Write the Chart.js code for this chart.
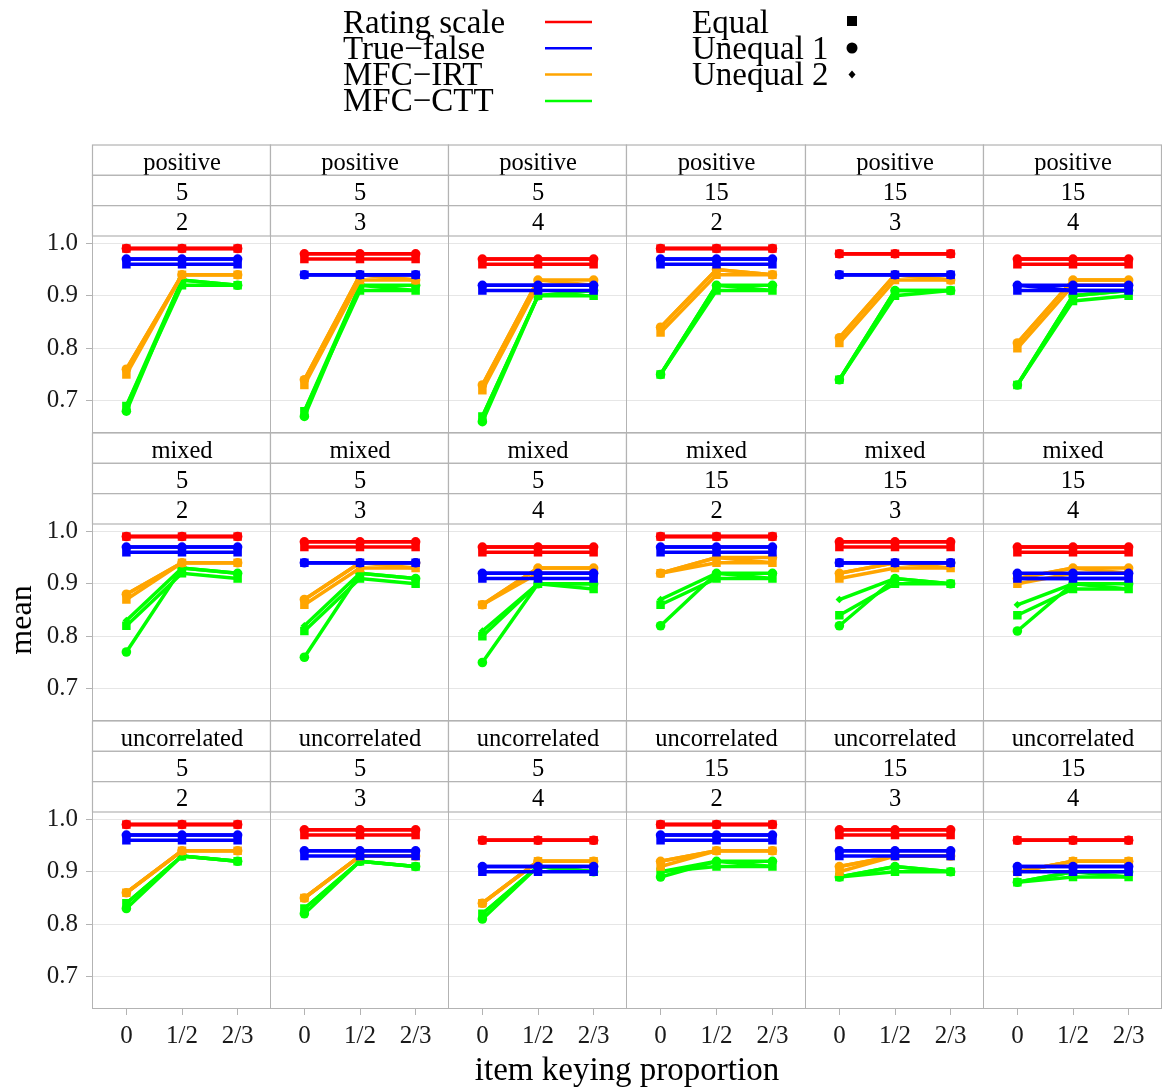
<!DOCTYPE html>
<html>
<head>
<meta charset="utf-8">
<script src="https://cdn.jsdelivr.net/npm/chart.js@4.4.0/dist/chart.umd.min.js"></script>
<style>
  body { margin: 0; background: #fff; }
  #wrap { position: relative; width: 1162px; height: 1092px; overflow: hidden; background: #fff; }
  #wrap canvas { position: absolute; }
  #over { position: absolute; left: 0; top: 0; z-index: 2; pointer-events: none; }
  #over text { font-family: "Liberation Serif", "Times New Roman", serif; fill: #000; }
</style>
</head>
<body>
<div id="wrap"><svg id="over" width="1162" height="1092"></svg></div>
<script>
// categories and labels
const xLabels = ["0", "1/2", "2/3"];
const yTicks = [0.7, 0.8, 0.9, 1.0];
const yTickLabels = ["0.7", "0.8", "0.9", "1.0"];
const methods = ["Rating scale", "True\u2212false", "MFC\u2212IRT", "MFC\u2212CTT"];
const shapes = ["Equal", "Unequal 1", "Unequal 2"];
const relations = ["positive", "mixed", "uncorrelated"];
const blockCounts = ["5", "5", "5", "15", "15", "15"];
const blockSizes = ["2", "3", "4", "2", "3", "4"];

// each array: 6 panels x [Equal, Unequal 1, Unequal 2] x 3 keying proportions
const posRS = [
  [[.99, .99, .99], [.99, .99, .99], [.99, .99, .99]],
  [[.97, .97, .97], [.98, .98, .98], [.98, .98, .98]],
  [[.96, .96, .96], [.97, .97, .97], [.97, .97, .97]],
  [[.99, .99, .99], [.99, .99, .99], [.99, .99, .99]],
  [[.98, .98, .98], [.98, .98, .98], [.98, .98, .98]],
  [[.96, .96, .96], [.97, .97, .97], [.97, .97, .97]]
];
const posTF = [
  [[.96, .96, .96], [.97, .97, .97], [.97, .97, .97]],
  [[.94, .94, .94], [.94, .94, .94], [.94, .94, .94]],
  [[.91, .91, .91], [.92, .92, .92], [.92, .92, .92]],
  [[.96, .96, .96], [.97, .97, .97], [.97, .97, .97]],
  [[.94, .94, .94], [.94, .94, .94], [.94, .94, .94]],
  [[.91, .91, .91], [.92, .92, .92], [.92, .91, .91]]
];
const posIRT = [
  [[.75, .94, .94], [.76, .94, .94], [.76, .94, .94]],
  [[.73, .93, .93], [.74, .94, .93], [.74, .94, .93]],
  [[.72, .92, .92], [.73, .93, .93], [.73, .93, .92]],
  [[.83, .94, .94], [.84, .95, .94], [.84, .95, .94]],
  [[.81, .93, .93], [.82, .94, .93], [.82, .94, .93]],
  [[.80, .92, .92], [.81, .93, .93], [.81, .93, .93]]
];
const posCTT = [
  [[.69, .92, .92], [.68, .93, .92], [.69, .93, .92]],
  [[.68, .91, .91], [.67, .92, .92], [.68, .92, .91]],
  [[.67, .90, .90], [.66, .90, .91], [.67, .90, .91]],
  [[.75, .91, .91], [.75, .92, .92], [.75, .92, .91]],
  [[.74, .90, .91], [.74, .91, .91], [.74, .91, .91]],
  [[.73, .89, .90], [.73, .90, .91], [.73, .90, .91]]
];

const mixRS = [
  [[.99, .99, .99], [.99, .99, .99], [.99, .99, .99]],
  [[.97, .97, .97], [.98, .98, .98], [.98, .98, .98]],
  [[.96, .96, .96], [.97, .97, .97], [.97, .97, .97]],
  [[.99, .99, .99], [.99, .99, .99], [.99, .99, .99]],
  [[.97, .97, .97], [.98, .98, .98], [.98, .98, .98]],
  [[.96, .96, .96], [.97, .97, .97], [.97, .97, .97]]
];
const mixTF = [
  [[.96, .96, .96], [.97, .97, .97], [.97, .97, .97]],
  [[.94, .94, .94], [.94, .94, .94], [.94, .94, .94]],
  [[.91, .91, .91], [.92, .92, .92], [.92, .92, .92]],
  [[.96, .96, .96], [.97, .97, .97], [.97, .97, .97]],
  [[.94, .94, .94], [.94, .94, .94], [.94, .94, .94]],
  [[.91, .91, .91], [.92, .92, .92], [.91, .91, .91]]
];
const mixIRT = [
  [[.87, .94, .94], [.88, .94, .94], [.88, .94, .94]],
  [[.86, .93, .93], [.87, .94, .94], [.87, .94, .93]],
  [[.86, .92, .92], [.86, .93, .93], [.86, .93, .93]],
  [[.92, .94, .94], [.92, .95, .95], [.92, .95, .94]],
  [[.91, .93, .93], [.92, .94, .94], [.92, .94, .93]],
  [[.90, .92, .92], [.91, .93, .93], [.91, .93, .92]]
];
const mixCTT = [
  [[.82, .92, .91], [.77, .93, .92], [.83, .93, .92]],
  [[.81, .91, .90], [.76, .92, .91], [.82, .92, .91]],
  [[.80, .90, .89], [.75, .90, .90], [.81, .90, .90]],
  [[.86, .91, .91], [.82, .92, .92], [.87, .92, .91]],
  [[.84, .90, .90], [.82, .91, .90], [.87, .91, .90]],
  [[.84, .89, .89], [.81, .90, .90], [.86, .90, .89]]
];

const uncRS = [
  [[.99, .99, .99], [.99, .99, .99], [.99, .99, .99]],
  [[.97, .97, .97], [.98, .98, .98], [.98, .98, .98]],
  [[.96, .96, .96], [.96, .96, .96], [.96, .96, .96]],
  [[.99, .99, .99], [.99, .99, .99], [.99, .99, .99]],
  [[.97, .97, .97], [.98, .98, .98], [.98, .98, .98]],
  [[.96, .96, .96], [.96, .96, .96], [.96, .96, .96]]
];
const uncTF = [
  [[.96, .96, .96], [.97, .97, .97], [.97, .97, .97]],
  [[.93, .93, .93], [.94, .94, .94], [.94, .94, .94]],
  [[.90, .90, .90], [.91, .91, .91], [.91, .91, .91]],
  [[.96, .96, .96], [.97, .97, .97], [.97, .97, .97]],
  [[.93, .93, .93], [.94, .94, .94], [.94, .94, .94]],
  [[.90, .90, .90], [.91, .91, .91], [.91, .91, .91]]
];
const uncIRT = [
  [[.86, .94, .94], [.86, .94, .94], [.86, .94, .94]],
  [[.85, .93, .93], [.85, .93, .93], [.85, .93, .93]],
  [[.84, .92, .92], [.84, .92, .92], [.84, .92, .92]],
  [[.91, .94, .94], [.92, .94, .94], [.92, .94, .94]],
  [[.90, .93, .93], [.91, .93, .93], [.91, .93, .93]],
  [[.90, .92, .92], [.90, .92, .92], [.90, .92, .92]]
];
const uncCTT = [
  [[.84, .93, .92], [.83, .93, .92], [.84, .93, .92]],
  [[.83, .92, .91], [.82, .92, .91], [.83, .92, .91]],
  [[.82, .91, .90], [.81, .91, .90], [.82, .91, .90]],
  [[.90, .91, .91], [.89, .92, .92], [.90, .92, .91]],
  [[.89, .90, .90], [.89, .91, .90], [.89, .91, .90]],
  [[.88, .89, .89], [.88, .90, .90], [.88, .90, .89]]
];

const rows = [
  [posRS, posTF, posIRT, posCTT],
  [mixRS, mixTF, mixIRT, mixCTT],
  [uncRS, uncTF, uncIRT, uncCTT]
];

// look
const methodColors = ["#ff0000", "#0000ff", "#ffa500", "#00ff00"];
const shapeStyle = ["rect", "circle", "rectRot"];
const shapeRadius = [6, 4.8, 3.8];
const FONT = "Liberation Serif";
const colLeft = [93, 271, 449, 627, 806, 984];
const colW = [178, 178, 178, 179, 178, 178];
const plotTop = [236, 524, 812];
const plotH = 197;
const stripH = 30.33;
const PAD_TOP = 20;
const X_AXIS_H = 60;
const Y_MAX = 1.0139;
const Y_MIN = 0.6385;
const GRID = "#e6e6e6";
const EDGE = "#b3b3b3";

const wrap = document.getElementById("wrap");
const svg = document.getElementById("over");
const NS = "http://www.w3.org/2000/svg";

function el(tag, attrs, text) {
  const e = document.createElementNS(NS, tag);
  for (const k in attrs) e.setAttribute(k, attrs[k]);
  if (text !== undefined) e.textContent = text;
  svg.appendChild(e);
  return e;
}

function panel(r, c) {
  const cv = document.createElement("canvas");
  const left = c === 0 ? 0 : colLeft[c];
  const w = colLeft[c] + colW[c] - left;
  const h = PAD_TOP + plotH + (r === 2 ? X_AXIS_H : 0);
  cv.width = w;
  cv.height = h;
  cv.style.left = left + "px";
  cv.style.top = (plotTop[r] - PAD_TOP) + "px";
  cv.style.width = w + "px";
  cv.style.height = h + "px";
  wrap.insertBefore(cv, svg);

  const datasets = [];
  rows[r].forEach(function (series, m) {
    series[c].forEach(function (vals, s) {
      datasets.push({
        label: methods[m] + " / " + shapes[s],
        data: vals.map((v, i) => ({ x: i, y: v })),
        borderColor: methodColors[m],
        backgroundColor: methodColors[m],
        borderWidth: 3.5,
        pointStyle: shapeStyle[s],
        pointRadius: shapeRadius[s],
        pointBorderWidth: 0,
        tension: 0,
      });
    });
  });

  const tickFont = { family: FONT, size: 25 };
  new Chart(cv, {
    type: "line",
    data: { datasets: datasets },
    options: {
      responsive: false,
      animation: false,
      devicePixelRatio: 1,
      layout: { autoPadding: false, padding: { top: PAD_TOP, left: 0, right: 0, bottom: 0 } },
      plugins: { legend: { display: false }, tooltip: { enabled: false } },
      scales: {
        x: {
          type: "linear",
          min: -0.6,
          max: 2.6,
          afterBuildTicks: (s) => { s.ticks = xLabels.map((_, i) => ({ value: i })); },
          ticks: {
            display: r === 2,
            callback: (v) => xLabels[v],
            font: tickFont,
            color: "#1a1a1a",
            padding: 6,
            maxRotation: 0,
            autoSkip: false,
          },
          grid: { drawOnChartArea: false, drawTicks: r === 2, tickLength: 6, tickColor: EDGE, color: EDGE },
          border: { display: false },
          afterFit: (s) => { s.height = r === 2 ? X_AXIS_H : 0; s.paddingLeft = 0; s.paddingRight = 0; },
        },
        y: {
          type: "linear",
          min: Y_MIN,
          max: Y_MAX,
          afterBuildTicks: (s) => { s.ticks = yTicks.map((v) => ({ value: v })); },
          ticks: {
            display: c === 0,
            callback: (v, i) => yTickLabels[i],
            font: tickFont,
            color: "#1a1a1a",
            padding: 8,
          },
          grid: { color: GRID, lineWidth: 1, drawTicks: c === 0, tickLength: 7, tickColor: EDGE },
          border: { display: false },
          afterFit: (s) => { s.width = c === 0 ? colLeft[0] : 0; s.paddingTop = 0; s.paddingBottom = 0; },
        },
      },
    },
  });
}

for (let r = 0; r < 3; r++) {
  for (let c = 0; c < 6; c++) {
    panel(r, c);
    // panel border
    el("rect", { x: colLeft[c] - 0.5, y: plotTop[r] - 0.5, width: colW[c], height: plotH,
      fill: "none", stroke: EDGE, "stroke-width": 1 });
    // strips
    const labels = [relations[r], blockCounts[c], blockSizes[c]];
    const stripTop = plotTop[r] - 3 * stripH;
    labels.forEach(function (t, k) {
      const y = stripTop + k * stripH;
      el("rect", { x: colLeft[c] - 0.5, y: y, width: colW[c], height: stripH,
        fill: "#fff", stroke: EDGE, "stroke-width": 1.2 });
      el("text", { x: colLeft[c] + colW[c] / 2, y: y + stripH / 2 + 9.5,
        "text-anchor": "middle", "font-size": 24.5 }, t);
    });
  }
}

// axis titles
el("text", { x: 627, y: 1080, "text-anchor": "middle", "font-size": 33 }, "item keying proportion");
el("text", { x: 0, y: 0, "text-anchor": "middle", "font-size": 32,
  transform: "translate(31,620) rotate(-90)" }, "mean");

// legend
methods.forEach(function (m, i) {
  el("text", { x: 343, y: 32.5 + i * 26.3, "font-size": 33 }, m);
  el("line", { x1: 545, x2: 592, y1: 22 + i * 26.3, y2: 22 + i * 26.3,
    stroke: methodColors[i], "stroke-width": 2.5 });
});
shapes.forEach(function (s, i) {
  el("text", { x: 692, y: 32.5 + i * 26.3, "font-size": 33 }, s);
});
el("rect", { x: 847, y: 16, width: 10, height: 10, fill: "#000" });
el("circle", { cx: 852, cy: 48, r: 5.5, fill: "#000" });
el("polygon", { points: "852,70.5 855.5,74.5 852,78.5 848.5,74.5", fill: "#000" });
</script>
</body>
</html>
